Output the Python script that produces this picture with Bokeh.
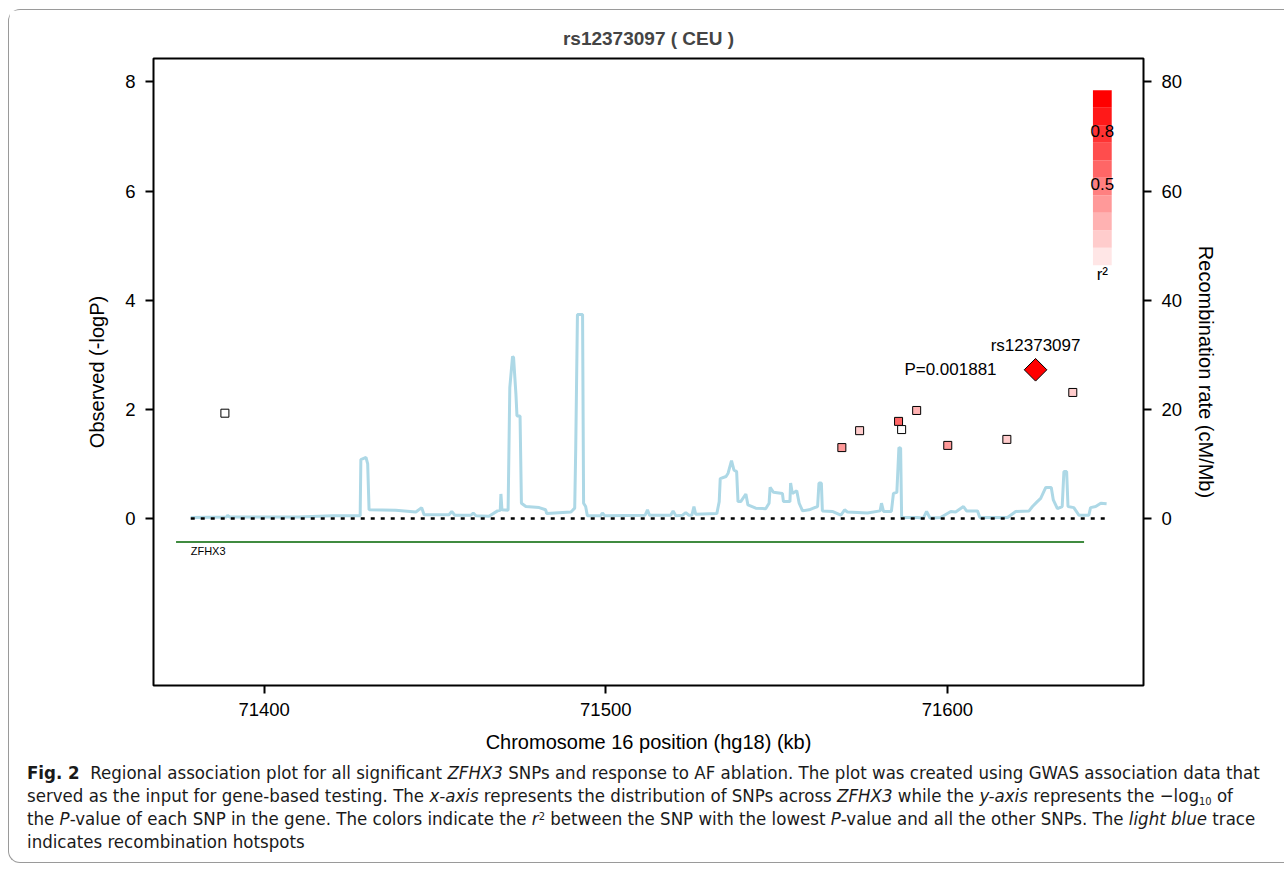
import numpy as np
from bokeh.plotting import figure
from bokeh.models import Range1d, LinearAxis, FixedTicker, Div, ColumnDataSource
from bokeh.layouts import column
from bokeh.core.properties import value
from bokeh.embed import file_html
from bokeh.resources import INLINE

# ---------------- data ----------------
title_text = "rs12373097 ( CEU )"
lead_snp = "rs12373097"
lead_label = "P=0.001881"
gene_name = "ZFHX3"

x_ticks = [71400, 71500, 71600]
y_ticks = [0, 2, 4, 6, 8]
recomb_ticks = [0, 20, 40, 60, 80]

snp_pos = [71388.5, 71569.1, 71574.3, 71585.7, 71586.6, 71591.0, 71600.1, 71617.4, 71636.7]
snp_logp = [1.93, 1.30, 1.61, 1.78, 1.63, 1.98, 1.34, 1.45, 2.31]
snp_r2 = [0.0, 0.35, 0.15, 0.55, 0.0, 0.25, 0.35, 0.15, 0.15]

lead_pos = [71625.8]
lead_logp = [2.7255]
lead_r2 = [1.0]

gene_start = 71374.2
gene_end = 71640.0
region_start = 71378.5
region_end = 71646.3

recomb_pos = [
    71378.5, 71389.0, 71389.3, 71389.8, 71410.0, 71420.0, 71428.1, 71428.3, 71429.8, 71430.3,
    71430.7, 71438.5, 71444.4, 71446.1, 71446.8, 71454.1, 71454.9, 71455.8, 71460.5, 71461.2,
    71462.0, 71465.8, 71468.3, 71469.1, 71469.3, 71469.6, 71471.4, 71471.9, 71472.7, 71473.0,
    71473.7, 71474.0, 71474.9, 71475.3, 71476.6, 71480.5, 71482.4, 71482.7, 71489.8, 71490.9,
    71491.2, 71491.7, 71493.2, 71493.5, 71494.1, 71494.6, 71498.5, 71499.0, 71499.7, 71511.5,
    71512.2, 71512.8, 71519.0, 71519.7, 71520.5, 71522.5, 71523.4, 71524.3, 71525.2, 71525.8,
    71526.3, 71532.5, 71533.2, 71533.5, 71535.2, 71535.8, 71536.8, 71537.5, 71538.3, 71538.7,
    71539.5, 71541.0, 71541.6, 71543.9, 71546.8, 71547.8, 71548.1, 71549.1, 71551.7, 71552.0,
    71553.9, 71554.1, 71554.6, 71555.9, 71556.6, 71557.6, 71559.5, 71562.0, 71562.4, 71563.1,
    71563.4, 71566.3, 71568.8, 71569.9, 71570.7, 71576.6, 71580.3, 71580.7, 71581.3, 71583.6,
    71584.2, 71585.2, 71585.5, 71585.8, 71586.3, 71586.6, 71591.2, 71593.0, 71593.9, 71594.9,
    71598.0, 71601.0, 71602.4, 71604.7, 71605.6, 71608.8, 71609.5, 71617.6, 71620.0, 71623.9,
    71624.9, 71626.3, 71627.3, 71628.8, 71630.4, 71631.0, 71632.2, 71633.6, 71634.1, 71634.9,
    71635.3, 71637.0, 71638.5, 71641.4, 71641.9, 71643.4, 71644.9, 71646.6,
]
recomb_rate = [
    0.2, 0.3, 0.6, 0.3, 0.3, 0.5, 0.5, 10.8, 11.2, 10.0,
    1.6, 1.5, 1.2, 2.0, 0.7, 0.7, 1.3, 0.6, 0.6, 1.0,
    0.5, 0.4, 1.4, 1.5, 4.5, 1.6, 1.5, 24.0, 29.7, 29.5,
    22.7, 18.8, 18.8, 2.8, 2.2, 2.0, 1.6, 0.9, 1.2, 1.9,
    12.9, 37.4, 37.4, 2.8, 2.2, 0.5, 0.5, 1.0, 0.5, 0.6,
    1.6, 0.6, 0.6, 1.4, 0.5, 0.6, 1.1, 0.6, 0.6, 2.2,
    0.8, 0.9, 3.1, 7.3, 7.7, 8.3, 10.6, 8.9, 8.6, 3.1,
    3.1, 4.5, 2.5, 1.9, 1.8, 2.8, 5.7, 4.8, 4.6, 3.1,
    3.1, 6.5, 4.6, 5.1, 2.8, 1.4, 1.6, 2.2, 6.5, 6.5,
    1.4, 1.3, 0.6, 1.6, 1.2, 1.0, 1.4, 2.8, 1.3, 1.3,
    4.6, 4.8, 8.9, 13.0, 12.9, 0.2, 0.2, 0.1, 1.3, 0.1,
    0.2, 1.3, 1.2, 2.2, 1.4, 1.4, 0.2, 0.2, 1.3, 1.4,
    2.2, 3.1, 3.7, 5.7, 5.7, 3.4, 1.8, 2.2, 8.6, 8.6,
    2.2, 2.0, 0.6, 0.6, 2.0, 2.2, 2.8, 2.7,
]

legend_levels = [0.5, 0.8]

# ---------------- helpers ----------------
def r2_palette(n=10):
    cols = []
    for i in range(n):
        g = int(round(255 * (1 - (i + 1) / n)))
        cols.append("#FF%02X%02X" % (g, g))
    return cols

PAL = r2_palette()

def r2_color(r2):
    if r2 < 0.05:
        return "#FFFFFF"
    return PAL[min(int(r2 * 10), 9)]

FONT = "Liberation Sans"

# ---------------- figure ----------------
p = figure(width=1266, height=745, output_backend="svg", toolbar_location=None,
           x_range=Range1d(71367.6, 71657.4), y_range=Range1d(-3.06, 8.43),
           min_border_left=144, min_border_right=132, min_border_top=48, min_border_bottom=70)
p.extra_y_ranges = {"recomb": Range1d(-30.6, 84.3)}

p.title.text = title_text
p.title.align = "center"
p.title.text_font = FONT
p.title.text_font_size = "19px"
p.title.text_font_style = "bold"
p.title.standoff = 19

p.grid.visible = False
p.outline_line_color = "black"
p.outline_line_width = 2
p.background_fill_color = "white"
p.border_fill_color = "white"

def style_axis(ax, label, ticks):
    ax.ticker = FixedTicker(ticks=ticks)
    ax.axis_label = label
    ax.axis_line_color = None
    ax.major_tick_line_color = "black"
    ax.major_tick_line_width = 2
    ax.major_tick_in = 0
    ax.major_tick_out = 8
    ax.minor_tick_line_color = None
    ax.major_label_text_font = FONT
    ax.major_label_text_font_size = "18.5px"
    ax.major_label_text_color = "black"
    ax.axis_label_text_font = FONT
    ax.axis_label_text_font_size = "20px"
    ax.axis_label_text_font_style = "normal"
    ax.axis_label_text_color = "black"

style_axis(p.xaxis[0], "Chromosome 16 position (hg18) (kb)", x_ticks)
p.xaxis[0].major_label_standoff = 9
p.xaxis[0].axis_label_standoff = 12
style_axis(p.yaxis[0], "Observed (-logP)", y_ticks)
p.yaxis[0].major_label_standoff = 10
p.yaxis[0].axis_label_standoff = 14

rax = LinearAxis(y_range_name="recomb")
style_axis(rax, "Recombination rate (cM/Mb)", recomb_ticks)
rax.major_label_standoff = 10
rax.axis_label_standoff = 10
p.add_layout(rax, "right")

# recombination trace
p.line(recomb_pos, recomb_rate, y_range_name="recomb", line_color="#ADD8E6", line_width=3)

# zero dashed line
p.line([region_start, region_end], [0, 0], line_color="black", line_width=2.5, line_dash="4 6")

# gene
p.line([gene_start, gene_end], [-0.43, -0.43], line_color="#006400", line_width=1.5)
p.text([region_start], [-0.43], text=[gene_name], text_font=value(FONT), text_font_size="11px",
       text_baseline="middle", text_align="left", y_offset=9, text_color="black")

# SNPs
src = ColumnDataSource(dict(x=snp_pos, y=snp_logp, c=[r2_color(v) for v in snp_r2]))
p.scatter("x", "y", source=src, marker="square", size=8, fill_color="c", line_color="black", line_width=1)

p.scatter(lead_pos, lead_logp, marker="square", angle=np.pi / 4, size=16,
          fill_color=[r2_color(v) for v in lead_r2], line_color="black", line_width=1)
p.text(lead_pos, lead_logp, text=[lead_snp], text_font=value(FONT), text_font_size="17px",
       text_align="center", text_baseline="middle", y_offset=-24, text_color="black")
p.text(lead_pos, lead_logp, text=[lead_label], text_font=value(FONT), text_font_size="17px",
       text_align="right", text_baseline="middle", x_offset=-39, y_offset=0, text_color="black")

# r2 colour legend (layout in data units)
cb_x0, cb_x1 = 71642.6, 71648.1
cb_y0, cb_y1 = 4.64, 7.85
n = len(PAL)
step = (cb_y1 - cb_y0) / n
p.quad(left=[cb_x0] * n, right=[cb_x1] * n,
       bottom=[cb_y0 + i * step for i in range(n)], top=[cb_y0 + (i + 1) * step for i in range(n)],
       fill_color=PAL, line_color=None)
cb_xc = (cb_x0 + cb_x1) / 2
p.text([cb_xc] * len(legend_levels), [cb_y0 + v * (cb_y1 - cb_y0) for v in legend_levels],
       text=[str(v) for v in legend_levels], text_font=value(FONT), text_font_size="17px",
       text_align="center", text_baseline="middle", y_offset=6, text_color="black")
p.text([cb_xc], [cb_y0], text=["r²"], text_font=value(FONT), text_font_size="17px",
       text_align="center", text_baseline="middle", y_offset=9, text_color="black")

SUP = "<span style='position:relative; top:-0.45em; font-size:11px; line-height:0'>"
SUB = "<span style='position:relative; top:0.3em; font-size:11px; line-height:0'>"
caption = Div(
    text=(
        "<b>Fig. 2</b>&nbsp; Regional association plot for all significant <i>ZFHX3</i> SNPs and response to AF ablation. "
        "The plot was created using GWAS association data that<br>"
        "served as the input for gene-based testing. The <i>x-axis</i> represents the distribution of SNPs across "
        "<i>ZFHX3</i> while the <i>y-axis</i> represents the &minus;log" + SUB + "10</span> of<br>"
        "the <i>P</i>-value of each SNP in the gene. The colors indicate the <i>r</i>" + SUP + "2</span> "
        "between the SNP with the lowest <i>P</i>-value and all the other SNPs. The <i>light blue</i> trace<br>"
        "indicates recombination hotspots"
    ),
    width=1266, height=97,
    styles={"font-family": "'Liberation Sans Narrow', 'DejaVu Sans Condensed', sans-serif",
            "font-size": "18.5px", "line-height": "23px", "color": "#1a1a1a",
            "padding-left": "13px", "padding-top": "1px", "white-space": "nowrap"},
)

layout = column(p, caption, styles={"border": "1px solid #9a9a9a", "border-right": "none",
                                    "border-radius": "12px 0 0 12px",
                                    "margin-top": "9px", "margin-left": "8px"})

open("out.html", "w").write(file_html(layout, INLINE))
